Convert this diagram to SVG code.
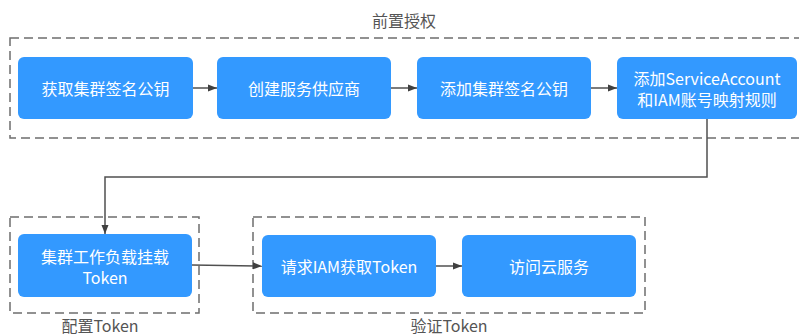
<svg xmlns="http://www.w3.org/2000/svg" width="799" height="334" viewBox="0 0 799 334">
<style>
.grp{fill:none;stroke:#6e6e6e;stroke-width:1.5;stroke-dasharray:9 5}
.node{fill:#3399ff}
.nt{fill:#ffffff;font-family:"Noto Sans CJK SC","Noto Sans",sans-serif;font-size:16px;text-anchor:middle;dominant-baseline:central}
.lbl{fill:#555555;font-family:"Noto Sans CJK SC","Noto Sans",sans-serif;font-size:16px;text-anchor:middle}
.conn{fill:none;stroke:#505050;stroke-width:1.5}
</style>
<defs>
<marker id="arr" markerWidth="10" markerHeight="8" refX="9" refY="4" orient="auto" markerUnits="userSpaceOnUse">
<path d="M0,0.5 L9,4 L0,7.5 Z" fill="#404040"/>
</marker>
</defs>
<rect width="799" height="334" fill="#ffffff"/>
<g id="group-pre">
<rect class="grp" x="10" y="38" width="800" height="100"/>
<text class="lbl" x="404" y="27">前置授权</text>
</g>
<g id="group-config">
<rect class="grp" x="10" y="217" width="189" height="96"/>
<text class="lbl" x="100" y="332">配置Token</text>
</g>
<g id="group-verify">
<rect class="grp" x="253" y="217" width="392" height="96"/>
<text class="lbl" x="449" y="332">验证Token</text>
</g>
<g id="connectors">
<line class="conn" x1="193" y1="88" x2="217" y2="88" marker-end="url(#arr)"/>
<line class="conn" x1="391" y1="88" x2="417" y2="88" marker-end="url(#arr)"/>
<line class="conn" x1="591" y1="88" x2="617" y2="88" marker-end="url(#arr)"/>
<polyline class="conn" points="707,119 707,177 105,177 105,234" marker-end="url(#arr)"/>
<line class="conn" x1="192" y1="265" x2="262" y2="266" marker-end="url(#arr)"/>
<line class="conn" x1="436" y1="266" x2="462" y2="266" marker-end="url(#arr)"/>
</g>
<g id="n1">
<rect class="node" x="18" y="57" width="175" height="62" rx="6"/>
<text class="nt" x="105.5" y="88">获取集群签名公钥</text>
</g>
<g id="n2">
<rect class="node" x="217" y="57" width="174" height="62" rx="6"/>
<text class="nt" x="304" y="88">创建服务供应商</text>
</g>
<g id="n3">
<rect class="node" x="417" y="57" width="174" height="62" rx="6"/>
<text class="nt" x="504" y="88">添加集群签名公钥</text>
</g>
<g id="n4">
<rect class="node" x="617" y="57" width="180" height="62" rx="6"/>
<text class="nt" x="707" y="78">添加ServiceAccount</text>
<text class="nt" x="707" y="99">和IAM账号映射规则</text>
</g>
<g id="n5">
<rect class="node" x="18" y="234" width="174" height="63" rx="6"/>
<text class="nt" x="105" y="256">集群工作负载挂载</text>
<text class="nt" x="105" y="277">Token</text>
</g>
<g id="n6">
<rect class="node" x="262" y="235" width="174" height="62" rx="6"/>
<text class="nt" x="349" y="266">请求IAM获取Token</text>
</g>
<g id="n7">
<rect class="node" x="462" y="235" width="174" height="62" rx="6"/>
<text class="nt" x="549" y="266">访问云服务</text>
</g>
</svg>
